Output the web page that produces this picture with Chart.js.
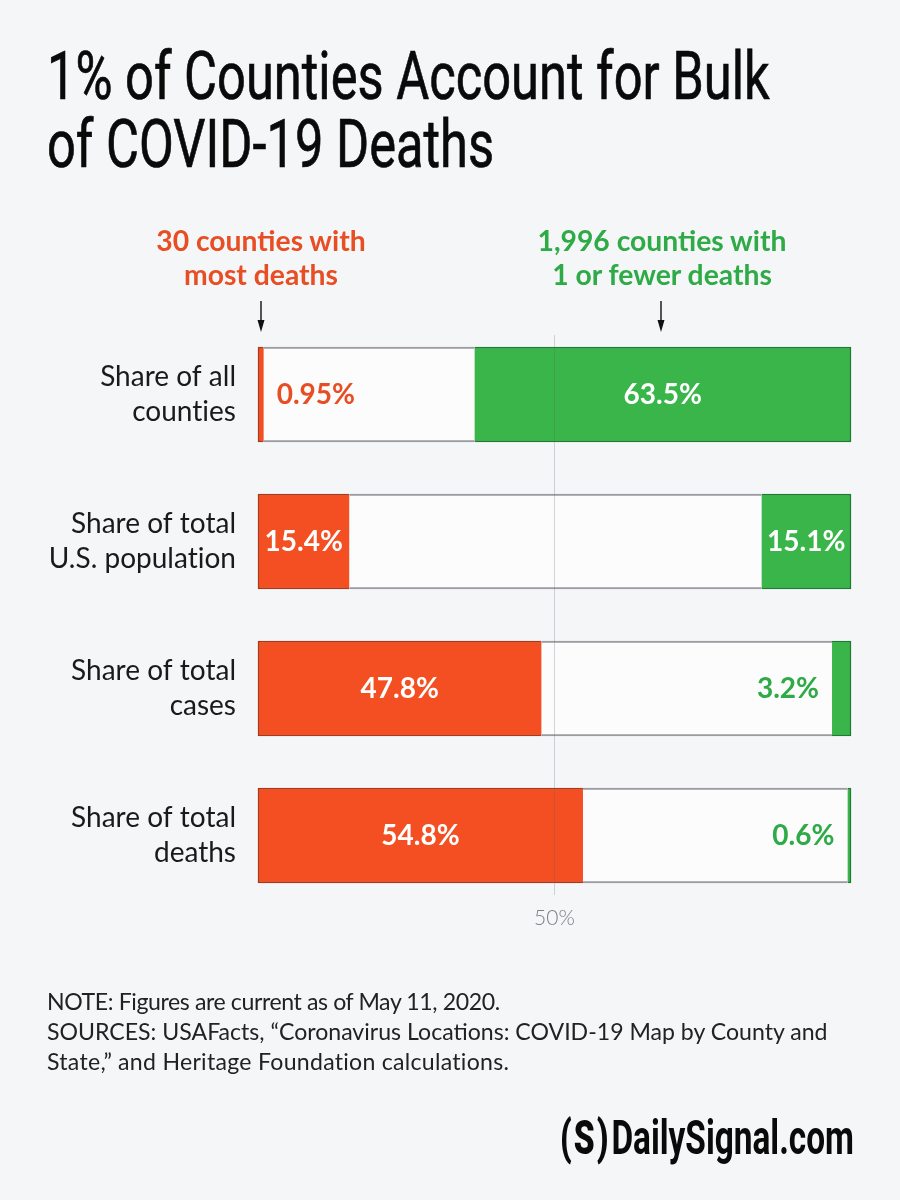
<!DOCTYPE html>
<html lang="en">
<head>
<meta charset="utf-8">
<title>1% of Counties Account for Bulk of COVID-19 Deaths</title>
<script src="https://cdn.jsdelivr.net/npm/chart.js@4"></script>
<style>
  html, body { margin: 0; padding: 0; background: #f5f6f8; }
  #page { position: relative; width: 900px; height: 1200px; overflow: hidden; color: #111; font-family: Lato, sans-serif; font-variant-ligatures: none; }
  #myChart { position: absolute; left: 0; top: 0; }
  #title { position: absolute; left: 47px; top: 43px; margin: 0; font: 400 66px/68px Roboto, sans-serif; -webkit-text-stroke: 0.7px #0a0a0a; color: #0a0a0a; white-space: nowrap; transform: scaleX(0.767); transform-origin: left top; }
  .heading { position: absolute; top: 223px; width: 320px; text-align: center; font: 700 28.3px/34px Lato, sans-serif; }
  #headOrange { left: 101px; color: #e84e24; }
  #headGreen { left: 502px; color: #2eaa47; }
  #note { position: absolute; left: 47px; top: 986px; font: 400 23.1px/30px Lato, sans-serif; color: #222; white-space: nowrap; }
  #noteFirst { letter-spacing: -0.4px; }
  #noteLast { letter-spacing: 0.27px; }
  #logo { position: absolute; right: 46px; top: 1110px; font: 700 48px/56px Roboto, sans-serif; color: #0a0a0a; white-space: nowrap; transform: scaleX(0.695); transform-origin: right top; }
  #logo b { font-weight: 900; letter-spacing: 3px; margin-right: 1px; }
</style>
</head>
<body>
<div id="page">
  <canvas id="myChart" width="900" height="1200"></canvas>
  <h1 id="title">1% of Counties Account for Bulk<br>of COVID-19 Deaths</h1>
  <div class="heading" id="headOrange">30 counties with<br>most deaths</div>
  <div class="heading" id="headGreen">1,996 counties with<br>1 or fewer deaths</div>
  <div id="note"><span id="noteFirst">NOTE: Figures are current as of May 11, 2020.</span><br>SOURCES: USAFacts, “Coronavirus Locations: COVID-19 Map by County and<br><span id="noteLast">State,” and Heritage Foundation calculations.</span></div>
  <div id="logo"><b>(S)</b>DailySignal.com</div>
</div>
<script>
'use strict';

const categories = [
  ['Share of all', 'counties'],
  ['Share of total', 'U.S. population'],
  ['Share of total', 'cases'],
  ['Share of total', 'deaths'],
];
const mostDeaths = [0.95, 15.4, 47.8, 54.8];
const fewestDeaths = [63.5, 15.1, 3.2, 0.6];
const otherCounties = [35.55, 69.5, 49, 44.6];
const xTicks = [50];

const ORANGE = '#f44f22';
const GREEN = '#39b54a';
const ORANGE_TEXT = '#e84e24';
const GREEN_TEXT = '#2eaa47';

// Etiquetas de valor: dentro de la barra si cabe, si no al lado en su color
const valueLabels = {
  id: 'valueLabels',
  afterDatasetsDraw(chart) {
    const ctx = chart.ctx;
    ctx.save();
    ctx.font = '700 28px Lato';
    ctx.textBaseline = 'middle';
    [0, 2].forEach(i => {
      const values = chart.data.datasets[i].data;
      chart.getDatasetMeta(i).data.forEach((bar, j) => {
        const text = values[j] + '%';
        if (values[j] > 10) {
          ctx.fillStyle = '#fff';
          ctx.textAlign = 'center';
          ctx.fillText(text, (bar.base + bar.x) / 2, bar.y);
        } else if (i === 0) {
          ctx.fillStyle = ORANGE_TEXT;
          ctx.textAlign = 'left';
          ctx.fillText(text, bar.x + 13, bar.y);
        } else {
          ctx.fillStyle = GREEN_TEXT;
          ctx.textAlign = 'right';
          ctx.fillText(text, bar.base - 13, bar.y);
        }
      });
    });
    ctx.restore();
  },
};

// Línea del 50% por encima de las barras y flechas de los encabezados
const guides = {
  id: 'guides',
  afterDatasetsDraw(chart) {
    const ctx = chart.ctx;
    const x50 = chart.scales.x.getPixelForValue(xTicks[0]);
    ctx.save();
    ctx.strokeStyle = 'rgba(90, 90, 100, 0.25)';
    ctx.lineWidth = 1;
    ctx.beginPath();
    ctx.moveTo(x50, 335);
    ctx.lineTo(x50, 895);
    ctx.stroke();

    [0, 2].forEach(i => {
      const bar = chart.getDatasetMeta(i).data[0];
      const x = Math.round((bar.base + bar.x) / 2) - (i === 2 ? 2 : 0);
      ctx.strokeStyle = '#111';
      ctx.fillStyle = '#111';
      ctx.lineWidth = 1.4;
      ctx.beginPath();
      ctx.moveTo(x, 301);
      ctx.lineTo(x, 324);
      ctx.stroke();
      ctx.beginPath();
      ctx.moveTo(x - 3.5, 320);
      ctx.lineTo(x + 3.5, 320);
      ctx.lineTo(x, 332);
      ctx.closePath();
      ctx.fill();
    });
    ctx.restore();
  },
};

// Lato trae ligadura "ti" que el original no tiene
const noLigatures = {
  id: 'noLigatures',
  beforeDraw(chart) {
    chart.ctx.letterSpacing = '0.01px';
  },
};

new Chart(document.getElementById('myChart'), {
  type: 'bar',
  data: {
    labels: categories,
    datasets: [
      {
        label: '30 counties with most deaths',
        data: mostDeaths,
        backgroundColor: ORANGE,
        borderColor: '#a8391c',
        borderWidth: { top: 1.5, bottom: 1.5, left: 1.5, right: 0 },
        borderSkipped: false,
      },
      {
        label: 'Other counties',
        data: otherCounties,
        backgroundColor: '#fcfcfc',
        borderColor: '#9b9ba0',
        borderWidth: { top: 2, bottom: 2, left: 0, right: 0 },
        borderSkipped: false,
      },
      {
        label: '1,996 counties with 1 or fewer deaths',
        data: fewestDeaths,
        backgroundColor: GREEN,
        borderColor: '#1f7a33',
        borderWidth: { top: 1.5, bottom: 1.5, left: 0, right: 1.5 },
        borderSkipped: false,
      },
    ],
  },
  options: {
    indexAxis: 'y',
    responsive: false,
    animation: false,
    devicePixelRatio: 1,
    datasets: { bar: { barThickness: 95, clip: false } },
    layout: { padding: { top: 321, right: 49, bottom: 261, left: 0 } },
    plugins: { legend: { display: false }, tooltip: { enabled: false } },
    scales: {
      x: {
        stacked: true,
        min: 0,
        max: 100,
        afterBuildTicks(axis) {
          axis.ticks = xTicks.map(value => ({ value }));
        },
        afterFit(axis) {
          axis.height = 30;
        },
        grid: { display: false, tickLength: 0 },
        border: { display: false },
        ticks: {
          padding: -3,
          color: '#7e7e84',
          font: { family: 'Lato', size: 21, weight: 300 },
          callback: value => value + '%',
        },
      },
      y: {
        stacked: true,
        afterFit(axis) {
          axis.width = 258;
        },
        grid: { display: false, tickLength: 0 },
        border: { display: false },
        ticks: {
          padding: 22,
          color: '#1a1a1a',
          font: { family: 'Lato', size: 28, weight: 400, lineHeight: 1.22 },
        },
      },
    },
  },
  plugins: [noLigatures, valueLabels, guides],
});
</script>
</body>
</html>
